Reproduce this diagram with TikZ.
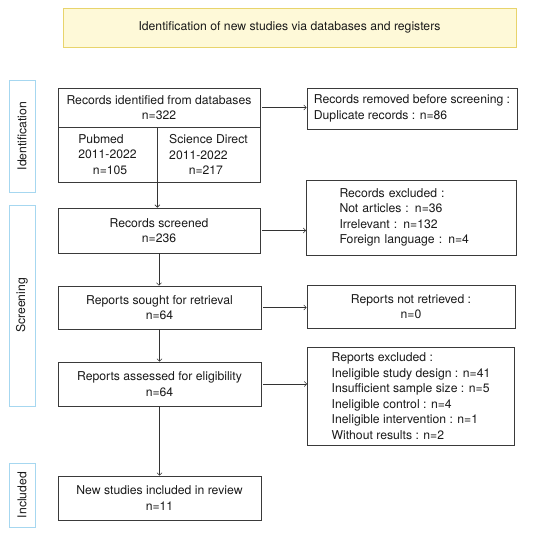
\documentclass[tikz,border=0pt]{standalone}
\usepackage{fontspec}
\setmainfont{TeX Gyre Heros}
\usetikzlibrary{arrows.meta}
\definecolor{titlefill}{HTML}{FEF9D8}
\definecolor{titleline}{HTML}{E8D46C}
\definecolor{phaseline}{HTML}{A6D7F0}
\definecolor{boxline}{HTML}{3A3A3A}
\begin{document}
\begin{tikzpicture}[x=1pt,y=-1pt,
  txt/.style={font=\fontsize{12.2}{15.5}\selectfont,text=black!90},
  box/.style={txt,draw=boxline,line width=0.7pt,inner sep=0pt,align=center},
  phase/.style={txt,draw=phaseline,line width=0.9pt,inner sep=0pt,rotate=90},
  flow/.style={-{Straight Barb[length=2.5pt,width=5pt]},line width=0.6pt,black!80}]
\useasboundingbox (0,0) rectangle (550,538);
% title
\node[box,draw=titleline,fill=titlefill,minimum width=453,minimum height=39] (title) at (289.5,27.5)
  {Identification of new studies via databases and registers};
% phases
\node[phase,minimum width=112,minimum height=26] (ident) at (22,136) {Identification};
\node[phase,minimum width=201,minimum height=26] (screen) at (22,305.5) {Screening};
\node[phase,minimum width=64,minimum height=26] (incl) at (22,495) {Included};
% main column
\node[box,minimum width=202,minimum height=39] (found) at (159,107.5)
  {Records identified from databases\\n=322};
\node[box,align=left,minimum width=99,minimum height=55] (pubmed) at (107.5,154.5)
  {Pubmed\\2011-2022\\\hspace*{1.2em}n=105};
\node[box,align=left,minimum width=103,minimum height=55] (scidir) at (208.5,154.5)
  {Science Direct\\2011-2022\\\hspace*{1.6em}n=217};
\node[box,minimum width=202,minimum height=45] (screened) at (159,230.5)
  {Records screened\\n=236};
\node[box,minimum width=203,minimum height=43] (sought) at (159.5,307.5)
  {Reports sought for retrieval\\n=64};
\node[box,minimum width=203,minimum height=44] (assessed) at (159.5,384)
  {Reports assessed for eligibility\\n=64};
\node[box,minimum width=203,minimum height=44] (included) at (159.5,498)
  {New studies included in review\\n=11};
% right column
\node[box,align=left,minimum width=210,minimum height=41] (removed) at (412,108.5)
  {Records removed before screening :\\Duplicate records : n=86};
\node[box,align=left,text width=144,minimum width=210,minimum height=75] (excluded) at (411.5,217.5)
  {Records excluded :\\Not articles : n=36\\Irrelevant : n=132\\Foreign language : n=4};
\node[box,minimum width=208,minimum height=43] (notret) at (411,306.5)
  {Reports not retrieved :\\n=0};
\node[box,align=left,minimum width=207,minimum height=98] (repexcl) at (411,396)
  {Reports excluded :\\Ineligible study design : n=41\\Insufficient sample size : n=5\\Ineligible control : n=4\\Ineligible intervention : n=1\\Without results : n=2};
% arrows
\draw[flow] ([xshift=2]found.east) -- (found.east -| removed.west);
\draw[flow] ([xshift=2]screened.east) -- (screened.east -| excluded.west);
\draw[flow] ([xshift=2]sought.east) -- (sought.east -| notret.west);
\draw[flow] ([xshift=2]assessed.east) -- (assessed.east -| repexcl.west);
\draw[flow] (pubmed.south east) -- (pubmed.south east |- screened.north);
\draw[flow] (screened.south) -- (screened.south |- sought.north);
\draw[flow] (sought.south) -- (sought.south |- assessed.north);
\draw[flow] (assessed.south) -- (assessed.south |- included.north);
\end{tikzpicture}
\end{document}
